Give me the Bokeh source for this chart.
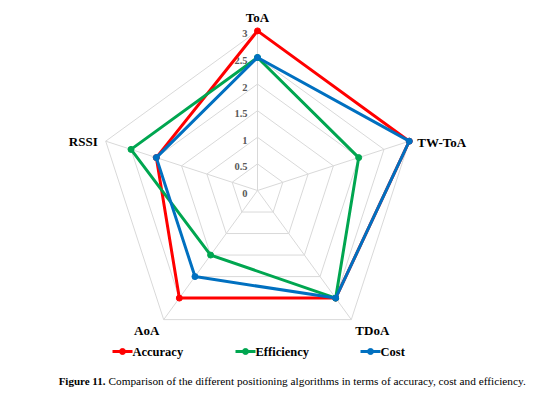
import numpy as np
from bokeh.plotting import figure
from bokeh.models import Range1d
from bokeh.core.properties import value
from bokeh.embed import file_html
from bokeh.resources import INLINE

categories = ["ToA", "TW-ToA", "TDoA", "AoA", "RSSI"]
ticks = [0, 0.5, 1, 1.5, 2, 2.5, 3]
tick_labels = ["0", "0.5", "1", "1.5", "2", "2.5", "3"]
accuracy = [3, 3, 2.5, 2.5, 2]
efficiency = [2.5, 2, 2.5, 1.5, 2.5]
cost = [2.5, 3, 2.5, 2, 2]
series_names = ["Accuracy", "Efficiency", "Cost"]
series_colors = ["#ff0000", "#00a650", "#0070c0"]

W, H = 546, 391
p = figure(width=W, height=H, output_backend="svg", toolbar_location=None,
           x_range=Range1d(0, W), y_range=Range1d(H, 0), min_border=0)
p.axis.visible = False
p.grid.visible = False
p.outline_line_color = None
p.background_fill_color = "white"
p.border_fill_color = "white"

cx, cy, R = 257, 190, 53.2
angles = np.deg2rad([90, 18, -54, -126, 162])

def pts(vals):
    v = np.asarray(vals, dtype=float)
    return cx + R * v * np.cos(angles), cy - R * v * np.sin(angles)

# grid rings
for t in ticks[1:]:
    xs, ys = pts([t] * 5)
    p.line(list(xs) + [xs[0]], list(ys) + [ys[0]], line_color="#d9d9d9", line_width=1)
xo, yo = pts([3] * 5)
for i in range(5):
    p.line([cx, xo[i]], [cy, yo[i]], line_color="#d9d9d9", line_width=1)

# tick labels
for t, lab in zip(ticks, tick_labels):
    p.text([cx - 10], [cy - R * t + 3], text=[lab], text_align="right", text_baseline="middle",
           text_font=value("Liberation Serif"), text_font_style="bold",
           text_font_size="10.5px", text_color="#595959")

# category labels
lx = [cx, xo[1] + 8, xo[2] + 21, xo[3] - 17, xo[4] - 8]
ly = [yo[0] - 13, yo[1] + 1, yo[2] + 11, yo[3] + 11, yo[4]]
aligns = ["center", "left", "center", "center", "right"]
for i, c in enumerate(categories):
    p.text([lx[i]], [ly[i]], text=[c], text_align=aligns[i], text_baseline="middle",
           text_font=value("Liberation Serif"), text_font_style="bold",
           text_font_size="13px", text_color="#000000")

# series
for vals, col in zip([accuracy, efficiency, cost], series_colors):
    xs, ys = pts(vals)
    p.line(list(xs) + [xs[0]], list(ys) + [ys[0]], line_color=col, line_width=3)
    p.scatter(xs, ys, size=6, fill_color=col, line_color=col)

# legend
leg_x = [112, 235, 360]
leg_y = 351
for name, col, x0 in zip(series_names, series_colors, leg_x):
    p.line([x0, x0 + 20], [leg_y, leg_y], line_color=col, line_width=3)
    p.scatter([x0 + 10], [leg_y], size=6, fill_color=col, line_color=col)
    p.text([x0 + 20], [leg_y], text=[name], text_align="left", text_baseline="middle",
           text_font=value("Liberation Serif"), text_font_style="bold",
           text_font_size="12.5px", text_color="#000000")

# caption
p.text([105], [380], text=["Figure 11."], text_align="right", text_baseline="middle",
       text_font=value("Liberation Serif"), text_font_style="bold",
       text_font_size="11px", text_color="#000000")
p.text([108], [380], text=["Comparison of the different positioning algorithms in terms of accuracy, cost and efficiency."],
       text_align="left", text_baseline="middle",
       text_font=value("Liberation Serif"), text_font_size="11.3px", text_color="#000000")

open("out.html", "w").write(file_html(p, INLINE))
